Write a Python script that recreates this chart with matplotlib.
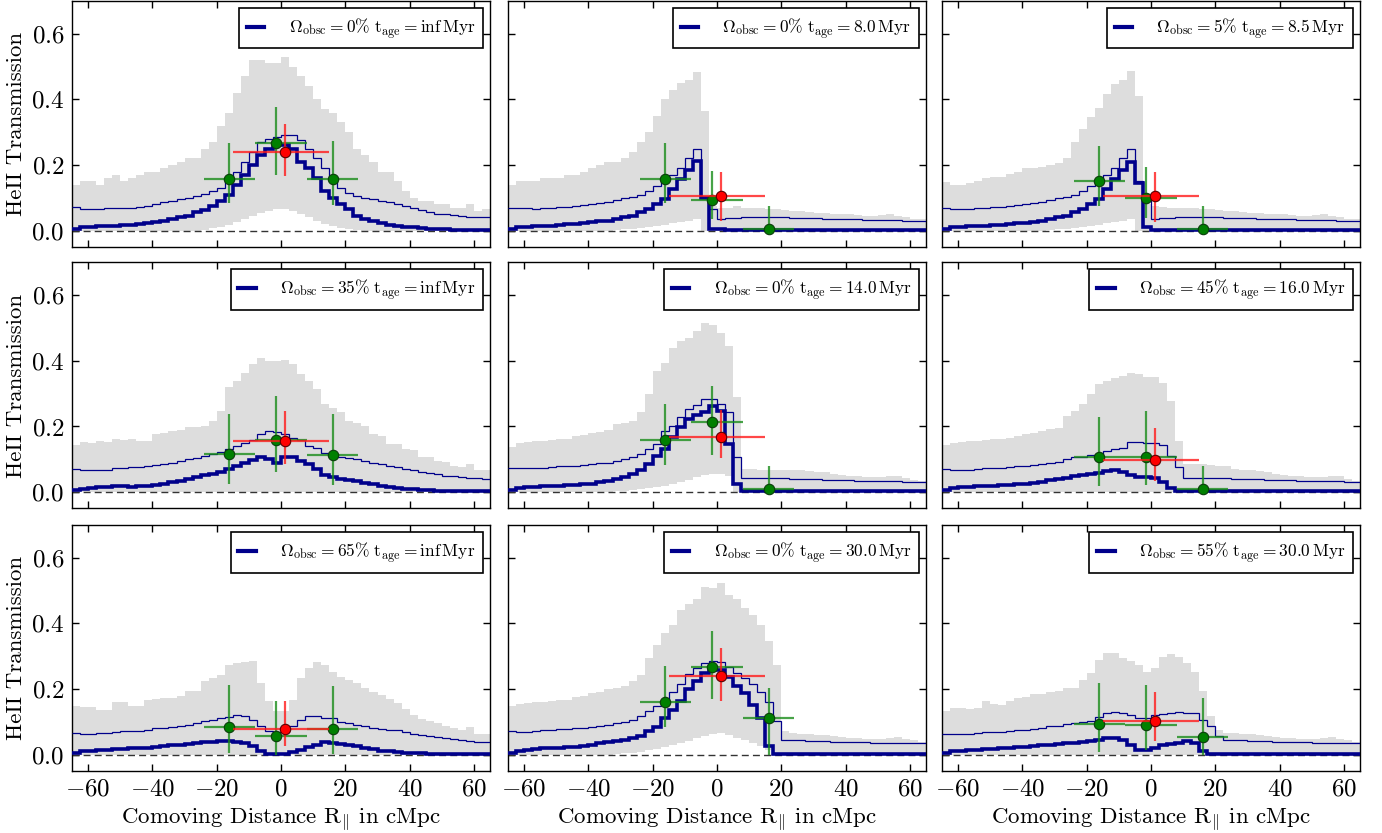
import numpy as np
import matplotlib
matplotlib.use("Agg")
import matplotlib.pyplot as plt
from matplotlib.lines import Line2D

plt.rcParams['font.family'] = 'serif'
plt.rcParams['font.serif'] = ['cmr10']
plt.rcParams['mathtext.fontset'] = 'cm'
plt.rcParams['axes.formatter.use_mathtext'] = True

# bin edges of the transmission profiles (cMpc)
bin_edges = np.linspace(-65, 65, 53)

# ---- panel 1: 0%, inf Myr
p1_band_hi = [0.14, 0.15, 0.15, 0.14, 0.16, 0.17, 0.15, 0.16, 0.17, 0.18, 0.18, 0.19,
              0.20, 0.21, 0.22, 0.22, 0.25, 0.27,
              0.32, 0.36, 0.42, 0.47, 0.52, 0.52, 0.51, 0.51,
              0.53, 0.50, 0.47, 0.44, 0.40, 0.37, 0.36, 0.33,
              0.30, 0.25, 0.23, 0.21, 0.18, 0.18, 0.15, 0.12,
              0.10, 0.09, 0.09, 0.08, 0.08, 0.07, 0.07, 0.08, 0.06, 0.065]
p1_band_lo = [0, 0, 0, 0, 0, 0, 0, 0, 0, 0, 0, 0, 0, 0, 0, 0,
              0.003, 0.007, 0.012, 0.018, 0.025, 0.035, 0.045, 0.055, 0.060, 0.065,
              0.067, 0.060, 0.050, 0.040, 0.030, 0.020, 0.013, 0.008, 0.004, 0.002,
              0, 0, 0, 0, 0, 0, 0, 0, 0, 0, 0, 0, 0, 0, 0, 0]
p1_thin = [0.071, 0.066, 0.066, 0.066, 0.068, 0.070, 0.070, 0.070,
           0.072, 0.075, 0.080, 0.086, 0.090, 0.096, 0.100, 0.106,
           0.112, 0.120, 0.130, 0.150, 0.180, 0.210, 0.240, 0.270, 0.280, 0.285,
           0.290, 0.290, 0.275, 0.250, 0.220, 0.190, 0.150, 0.130, 0.115, 0.105, 0.100, 0.096,
           0.090, 0.086, 0.080, 0.075, 0.070, 0.062,
           0.058, 0.052, 0.050, 0.047, 0.045, 0.042, 0.040, 0.040]
p1_thick = [0.005, 0.010, 0.010, 0.013, 0.015, 0.015, 0.016, 0.018, 0.020,
            0.022, 0.025, 0.030, 0.035, 0.040, 0.045, 0.056,
            0.063, 0.075, 0.090, 0.110, 0.140, 0.170, 0.200, 0.230, 0.250, 0.260,
            0.260, 0.250, 0.210, 0.190, 0.160, 0.120, 0.100, 0.080, 0.066, 0.045, 0.035, 0.028,
            0.022, 0.018, 0.015, 0.012, 0.010, 0.008,
            0.006, 0.005, 0.004, 0.003, 0.003, 0.002, 0.002, 0.002]

# ---- panel 2: 0%, 8.0 Myr
p2_band_hi = [0.14, 0.15, 0.15, 0.15, 0.16, 0.16, 0.16, 0.17, 0.17, 0.18,
              0.19, 0.20, 0.21, 0.21, 0.22, 0.24, 0.27, 0.30, 0.35, 0.40,
              0.43, 0.45, 0.46, 0.485, 0.365, 0.075,
              0.07, 0.07, 0.075, 0.07, 0.068, 0.068, 0.065, 0.065, 0.063, 0.06,
              0.06, 0.058, 0.055, 0.055, 0.052, 0.05, 0.05, 0.048, 0.045, 0.045,
              0.048, 0.05, 0.045, 0.04, 0.035, 0.035]
p2_band_lo = [0, 0, 0, 0, 0, 0, 0, 0, 0, 0, 0, 0, 0,
              0.002, 0.004, 0.006, 0.008, 0.011, 0.014, 0.018, 0.022, 0.026, 0.030, 0.035,
              0, 0, 0, 0, 0, 0, 0, 0, 0, 0, 0, 0, 0, 0,
              0, 0, 0, 0, 0, 0, 0, 0, 0, 0, 0, 0, 0, 0]
p2_thin = [0.069, 0.068, 0.068, 0.066, 0.068, 0.070, 0.072, 0.073, 0.075, 0.078,
           0.080, 0.083, 0.088, 0.092, 0.098, 0.102, 0.110, 0.120, 0.135, 0.150,
           0.170, 0.190, 0.220, 0.250, 0.100, 0.065,
           0.036, 0.037, 0.038, 0.040, 0.040, 0.041, 0.041, 0.040, 0.040, 0.039,
           0.038, 0.038, 0.037, 0.036, 0.035, 0.035, 0.034, 0.034, 0.033, 0.032,
           0.032, 0.031, 0.031, 0.030, 0.030, 0.030]
p2_thick = [0.005, 0.010, 0.012, 0.013, 0.014, 0.015, 0.017, 0.019, 0.020,
            0.022, 0.025, 0.028, 0.030, 0.034, 0.040, 0.045,
            0.056, 0.066, 0.081, 0.096, 0.127, 0.157, 0.185, 0.213, 0.100,
            0.004, 0.004, 0.003, 0.003, 0.003, 0.003, 0.003, 0.003, 0.003, 0.003,
            0.003, 0.003, 0.003, 0.003, 0.003, 0.003, 0.003, 0.003, 0.003, 0.003,
            0.003, 0.003, 0.003, 0.003, 0.003, 0.003, 0.003]

# ---- panel 3: 5%, 8.5 Myr
p3_band_hi = [0.147, 0.14, 0.14, 0.145, 0.15, 0.16, 0.162, 0.162, 0.172, 0.18,
              0.19, 0.19, 0.195, 0.2, 0.205,
              0.22, 0.27, 0.31, 0.345, 0.375, 0.415, 0.446, 0.46, 0.486, 0.41, 0.08,
              0.075, 0.072, 0.07, 0.07, 0.068, 0.068, 0.065, 0.065, 0.063, 0.06,
              0.06, 0.058, 0.055, 0.055, 0.052, 0.05, 0.05, 0.048, 0.045, 0.045,
              0.048, 0.05, 0.045, 0.04, 0.035, 0.035]
p3_band_lo = [0, 0, 0, 0, 0, 0, 0, 0, 0, 0, 0, 0, 0,
              0.002, 0.004, 0.006, 0.008, 0.011, 0.014, 0.018, 0.022, 0.026, 0.030, 0.035,
              0, 0, 0, 0, 0, 0, 0, 0, 0, 0, 0, 0, 0, 0,
              0, 0, 0, 0, 0, 0, 0, 0, 0, 0, 0, 0, 0, 0]
p3_thin = [0.069, 0.067, 0.067, 0.066, 0.068, 0.070, 0.072, 0.073, 0.075, 0.078,
           0.080, 0.083, 0.088, 0.092, 0.098, 0.102, 0.110, 0.120, 0.135, 0.150,
           0.170, 0.190, 0.220, 0.250, 0.150, 0.100,
           0.036, 0.037, 0.038, 0.040, 0.040, 0.041, 0.041, 0.040, 0.040, 0.039,
           0.038, 0.038, 0.037, 0.036, 0.035, 0.035, 0.034, 0.034, 0.033, 0.032,
           0.032, 0.031, 0.031, 0.030, 0.030, 0.030]
p3_thick = [0.005, 0.010, 0.012, 0.013, 0.014, 0.015, 0.016, 0.018, 0.020, 0.022,
            0.024, 0.026, 0.030, 0.034, 0.040, 0.045, 0.056, 0.066, 0.081, 0.096,
            0.127, 0.157, 0.185, 0.210, 0.145, 0.012,
            0.003, 0.003, 0.003, 0.003, 0.003, 0.003, 0.003, 0.003, 0.003, 0.003,
            0.003, 0.003, 0.003, 0.003, 0.003, 0.003, 0.003, 0.003, 0.003, 0.003,
            0.003, 0.003, 0.003, 0.003, 0.003, 0.003]

# ---- panel 4: 35%, inf Myr
p4_band_hi = [0.142, 0.152, 0.15, 0.155, 0.152, 0.162, 0.16, 0.162, 0.155, 0.155,
              0.177, 0.18, 0.187, 0.19, 0.197, 0.197, 0.2, 0.218, 0.248, 0.319,
              0.339, 0.364, 0.39, 0.41, 0.40, 0.40, 0.403, 0.39, 0.36, 0.34,
              0.314, 0.268, 0.255, 0.243, 0.218, 0.21, 0.202, 0.177, 0.17, 0.147,
              0.147, 0.13, 0.127, 0.106, 0.106, 0.095, 0.091, 0.08, 0.076, 0.086,
              0.066, 0.066]
p4_band_lo = None
p4_thin = [0.071, 0.068, 0.066, 0.067, 0.068, 0.072, 0.074, 0.076, 0.076, 0.078,
           0.082, 0.086, 0.090, 0.094, 0.100, 0.104, 0.110, 0.116, 0.122, 0.130,
           0.140, 0.150, 0.160, 0.177, 0.185, 0.183, 0.177, 0.165, 0.160, 0.140,
           0.135, 0.120, 0.108, 0.106, 0.104, 0.100, 0.095, 0.090, 0.085, 0.080,
           0.075, 0.070, 0.066, 0.062, 0.058, 0.054, 0.050, 0.048, 0.046, 0.044,
           0.042, 0.040]
p4_thick = [0.005, 0.010, 0.013, 0.015, 0.016, 0.017, 0.017, 0.016, 0.017, 0.019,
            0.022, 0.025, 0.030, 0.035, 0.040, 0.046, 0.052, 0.056, 0.062, 0.070,
            0.078, 0.088, 0.098, 0.106, 0.100, 0.090, 0.106, 0.106, 0.096, 0.086,
            0.070, 0.052, 0.045, 0.040, 0.038, 0.034, 0.028, 0.024, 0.018, 0.014,
            0.012, 0.010, 0.008, 0.006, 0.005, 0.004, 0.003, 0.003, 0.002, 0.002,
            0.002, 0.002]

# ---- panel 5: 0%, 14.0 Myr
p5_band_hi = [0.137, 0.15, 0.152, 0.155, 0.155, 0.16, 0.162, 0.162, 0.17, 0.175,
              0.18, 0.182, 0.19, 0.207, 0.21, 0.218, 0.243,
              0.30, 0.37, 0.395, 0.44, 0.46, 0.47, 0.49, 0.516, 0.51, 0.486, 0.445, 0.29,
              0.07, 0.07, 0.068, 0.068, 0.066, 0.066, 0.066, 0.066, 0.065, 0.062,
              0.06, 0.056, 0.052, 0.05, 0.048, 0.046, 0.046, 0.046, 0.048, 0.05,
              0.044, 0.038, 0.035]
p5_band_lo = [0, 0, 0, 0, 0, 0, 0, 0, 0, 0, 0, 0, 0,
              0.002, 0.004, 0.006, 0.009, 0.012, 0.016, 0.02, 0.025, 0.03, 0.037,
              0.045, 0.053, 0.056, 0.056, 0.05,
              0, 0, 0, 0, 0, 0, 0, 0, 0, 0, 0, 0,
              0, 0, 0, 0, 0, 0, 0, 0, 0, 0, 0, 0]
p5_thin = [0.074, 0.072, 0.072, 0.073, 0.074, 0.076, 0.078, 0.078, 0.080, 0.082,
           0.086, 0.088, 0.090, 0.096, 0.100, 0.106, 0.116,
           0.130, 0.147, 0.187, 0.200, 0.230, 0.253, 0.265, 0.283, 0.283, 0.268, 0.243, 0.106,
           0.044, 0.044, 0.043, 0.043, 0.042, 0.042, 0.041, 0.040, 0.040, 0.039,
           0.038, 0.037, 0.036, 0.036, 0.035, 0.035, 0.034, 0.034, 0.033, 0.033,
           0.032, 0.032, 0.032]
p5_thick = [0.005, 0.012, 0.015, 0.016, 0.018, 0.019, 0.020, 0.021, 0.022, 0.024,
            0.026, 0.030, 0.035, 0.040, 0.046, 0.056, 0.066,
            0.086, 0.111, 0.132, 0.167, 0.197, 0.223, 0.235, 0.243, 0.263, 0.246, 0.147, 0.025,
            0.004, 0.004, 0.004, 0.004, 0.004, 0.004, 0.004, 0.004, 0.004, 0.004,
            0.004, 0.004, 0.004, 0.004, 0.004, 0.004, 0.004, 0.004, 0.004, 0.004,
            0.004, 0.004, 0.004]

# ---- panel 6: 45%, 16.0 Myr
p6_band_hi = [0.142, 0.15, 0.152, 0.155, 0.155, 0.16, 0.162, 0.162, 0.165, 0.17,
              0.177, 0.18, 0.185, 0.192, 0.195, 0.233, 0.248,
              0.268, 0.30, 0.33, 0.34, 0.347, 0.354, 0.364, 0.36, 0.35, 0.35, 0.334, 0.278, 0.157,
              0.086, 0.086, 0.085, 0.083, 0.08, 0.078, 0.07, 0.068, 0.066, 0.064,
              0.06, 0.056, 0.052, 0.05, 0.048, 0.046, 0.046, 0.046, 0.05, 0.05,
              0.04, 0.035]
p6_band_lo = None
p6_thin = [0.071, 0.068, 0.066, 0.068, 0.070, 0.072, 0.074, 0.074, 0.076, 0.078,
           0.080, 0.082, 0.086, 0.090, 0.092, 0.100, 0.106,
           0.108, 0.112, 0.116, 0.124, 0.130, 0.135, 0.152, 0.152, 0.149, 0.149, 0.142, 0.111, 0.076,
           0.044, 0.044, 0.043, 0.043, 0.042, 0.042, 0.041, 0.040, 0.040, 0.039,
           0.038, 0.037, 0.036, 0.036, 0.035, 0.035, 0.034, 0.034, 0.033, 0.033,
           0.032, 0.032]
p6_thick = [0.005, 0.012, 0.015, 0.016, 0.017, 0.018, 0.020, 0.021, 0.022, 0.024,
            0.026, 0.028, 0.031, 0.036, 0.040, 0.044, 0.048,
            0.052, 0.056, 0.058, 0.064, 0.066, 0.062, 0.052, 0.046, 0.046, 0.044, 0.030, 0.012,
            0.004, 0.004, 0.004, 0.004, 0.004, 0.004, 0.004, 0.004, 0.004, 0.004,
            0.004, 0.004, 0.004, 0.004, 0.004, 0.004, 0.004, 0.004, 0.004, 0.004,
            0.004, 0.004, 0.004]

# ---- panel 7: 65%, inf Myr
p7_band_hi = [0.147, 0.144, 0.144, 0.137, 0.137, 0.16, 0.16, 0.147, 0.147, 0.167,
              0.17, 0.174, 0.174, 0.18, 0.193, 0.195,
              0.223, 0.235, 0.243, 0.274, 0.279, 0.282, 0.284, 0.218, 0.162, 0.132,
              0.132, 0.167, 0.233, 0.263, 0.282, 0.274, 0.253, 0.238, 0.228, 0.218,
              0.203, 0.19, 0.182, 0.17, 0.157, 0.14, 0.122, 0.11, 0.101, 0.095,
              0.086, 0.08, 0.076, 0.085, 0.063, 0.063]
p7_band_lo = None
p7_thin = [0.066, 0.064, 0.064, 0.066, 0.066, 0.070, 0.071, 0.072, 0.072, 0.076,
           0.080, 0.081, 0.084, 0.088, 0.091, 0.095, 0.101,
           0.105, 0.111, 0.116, 0.120, 0.118, 0.106, 0.086, 0.071, 0.069, 0.069,
           0.086, 0.106, 0.117, 0.117, 0.113, 0.111, 0.100, 0.096, 0.090, 0.086,
           0.082, 0.078, 0.076, 0.074, 0.070, 0.064, 0.060, 0.058, 0.054, 0.050,
           0.048, 0.046, 0.042, 0.040, 0.038]
p7_thick = [0.005, 0.010, 0.012, 0.014, 0.015, 0.016, 0.018, 0.019, 0.020, 0.021,
            0.024, 0.026, 0.028, 0.030, 0.033, 0.035, 0.038,
            0.040, 0.043, 0.043, 0.040, 0.036, 0.025, 0.010, 0.003, 0.002, 0.003,
            0.008, 0.014, 0.022, 0.030, 0.038, 0.036, 0.032, 0.028, 0.025, 0.020,
            0.016, 0.012, 0.010, 0.008, 0.006, 0.005, 0.004, 0.003,
            0.002, 0.002, 0.002, 0.002, 0.002, 0.002, 0.002]

# ---- panel 8: 0%, 30.0 Myr
p8_band_hi = [0.147, 0.155, 0.157, 0.16, 0.16, 0.165, 0.167, 0.167, 0.175, 0.18,
              0.187, 0.19, 0.2, 0.203, 0.21,
              0.223, 0.243, 0.294, 0.334, 0.37, 0.395, 0.44, 0.46, 0.476, 0.512,
              0.507, 0.522, 0.486, 0.476, 0.446, 0.425, 0.395, 0.345, 0.274,
              0.071, 0.066, 0.064, 0.062, 0.061, 0.060, 0.058, 0.055, 0.052, 0.050,
              0.049, 0.049, 0.049, 0.052, 0.055, 0.048, 0.044, 0.040]
p8_band_lo = [0, 0, 0, 0, 0, 0, 0, 0, 0, 0, 0, 0, 0,
              0.002, 0.004, 0.006, 0.009, 0.013, 0.017, 0.022, 0.028, 0.034, 0.042,
              0.050, 0.056, 0.062, 0.066, 0.060, 0.052, 0.045, 0.035, 0.025, 0.015, 0.005,
              0, 0, 0, 0, 0, 0, 0, 0, 0, 0, 0, 0, 0, 0, 0, 0, 0, 0]
p8_thin = [0.071, 0.070, 0.070, 0.072, 0.074, 0.076, 0.078, 0.079, 0.080, 0.082,
           0.084, 0.086, 0.090, 0.096, 0.100, 0.106, 0.117,
           0.132, 0.147, 0.165, 0.190, 0.215, 0.245, 0.265, 0.279, 0.286, 0.283,
           0.266, 0.248, 0.235, 0.215, 0.192, 0.160, 0.101,
           0.046, 0.045, 0.044, 0.043, 0.042, 0.041, 0.040, 0.040, 0.039, 0.038,
           0.037, 0.036, 0.036, 0.035, 0.035, 0.034, 0.034, 0.034]
p8_thick = [0.005, 0.012, 0.015, 0.017, 0.019, 0.020, 0.021, 0.022, 0.024, 0.026,
            0.030, 0.034, 0.038, 0.042, 0.046, 0.050, 0.056,
            0.071, 0.083, 0.111, 0.137, 0.162, 0.200, 0.223, 0.248, 0.258, 0.258,
            0.238, 0.208, 0.187, 0.152, 0.111, 0.025, 0.003,
            0.002, 0.002, 0.002, 0.002, 0.002, 0.002, 0.002, 0.002, 0.002, 0.002,
            0.002, 0.002, 0.002, 0.002, 0.002, 0.002, 0.002, 0.002]

# ---- panel 9: 55%, 30.0 Myr
p9_band_hi = [0.134, 0.142, 0.142, 0.140, 0.142, 0.162, 0.155, 0.152, 0.165, 0.172,
              0.175, 0.184, 0.184, 0.19, 0.195, 0.203, 0.203,
              0.228, 0.248, 0.289, 0.309, 0.309, 0.294, 0.284, 0.274, 0.253,
              0.263, 0.299, 0.306, 0.299, 0.279, 0.253, 0.193, 0.117, 0.076,
              0.066, 0.065, 0.063, 0.062, 0.060, 0.058, 0.055, 0.052, 0.050, 0.049,
              0.049, 0.049, 0.052, 0.055, 0.048, 0.044, 0.040]
p9_band_lo = None
p9_thin = [0.063, 0.062, 0.062, 0.064, 0.066, 0.068, 0.069, 0.070, 0.072, 0.074,
           0.076, 0.078, 0.082, 0.086, 0.088, 0.092, 0.096,
           0.098, 0.103, 0.115, 0.127, 0.130, 0.128, 0.122, 0.113, 0.113,
           0.120, 0.125, 0.128, 0.130, 0.128, 0.127, 0.106, 0.086, 0.056,
           0.046, 0.045, 0.044, 0.043, 0.042, 0.041, 0.040, 0.040, 0.039, 0.038,
           0.037, 0.036, 0.036, 0.035, 0.035, 0.034, 0.034]
p9_thick = [0.005, 0.010, 0.012, 0.014, 0.015, 0.016, 0.018, 0.019, 0.021, 0.022,
            0.024, 0.026, 0.028, 0.030, 0.032, 0.034, 0.036,
            0.038, 0.041, 0.044, 0.050, 0.051, 0.046, 0.030, 0.015, 0.015,
            0.020, 0.028, 0.032, 0.035, 0.043, 0.035, 0.010, 0.003,
            0.002, 0.002, 0.002, 0.002, 0.002, 0.002, 0.002, 0.002, 0.002, 0.002,
            0.002, 0.002, 0.002, 0.002, 0.002, 0.002, 0.002, 0.002]

# binned measurements: green = 3 bins, red = 1 wide bin
green_x = [-16.2, -1.6, 16.1]
green_bin_lo = [-24, -8, 8]
green_bin_hi = [-8, 8, 24]
red_x = [1.3]
red_bin_lo = [-15]
red_bin_hi = [15]

green_y = [[0.157, 0.268, 0.157], [0.157, 0.093, 0.005], [0.152, 0.098, 0.005],
           [0.116, 0.159, 0.113], [0.159, 0.213, 0.008], [0.106, 0.108, 0.008],
           [0.083, 0.056, 0.079], [0.160, 0.268, 0.111], [0.093, 0.089, 0.054]]
green_top = [[0.268, 0.377, 0.274], [0.268, 0.182, 0.076], [0.258, 0.193, 0.076],
             [0.238, 0.294, 0.238], [0.270, 0.324, 0.078], [0.228, 0.248, 0.078],
             [0.213, 0.165, 0.210], [0.271, 0.378, 0.203], [0.218, 0.213, 0.174]]
green_bot = [[0.084, 0.170, 0.079], [0.084, 0.035, 0.0], [0.076, 0.039, 0.0],
             [0.025, 0.061, 0.023], [0.084, 0.113, 0.0], [0.017, 0.023, 0.0],
             [0.005, 0.0, 0.003], [0.083, 0.170, 0.0], [0.008, 0.013, 0.0]]
red_y = [0.240, 0.104, 0.106, 0.157, 0.167, 0.098, 0.079, 0.241, 0.103]
red_top = [0.326, 0.179, 0.179, 0.246, 0.251, 0.194, 0.164, 0.326, 0.190]
red_bot = [0.167, 0.030, 0.025, 0.086, 0.104, 0.035, 0.027, 0.164, 0.043]

obsc_pct = ['0', '0', '5', '35', '0', '45', '65', '0', '55']
age_myr = ['inf', '8.0', '8.5', 'inf', '14.0', '16.0', 'inf', '30.0', '30.0']

band_hi = [p1_band_hi, p2_band_hi, p3_band_hi, p4_band_hi, p5_band_hi,
           p6_band_hi, p7_band_hi, p8_band_hi, p9_band_hi]
band_lo = [p1_band_lo, p2_band_lo, p3_band_lo, p4_band_lo, p5_band_lo,
           p6_band_lo, p7_band_lo, p8_band_lo, p9_band_lo]
thin = [p1_thin, p2_thin, p3_thin, p4_thin, p5_thin, p6_thin, p7_thin, p8_thin, p9_thin]
thick = [p1_thick, p2_thick, p3_thick, p4_thick, p5_thick, p6_thick, p7_thick,
         p8_thick, p9_thick]

fig = plt.figure(figsize=(13.82, 8.33), dpi=100)
lefts = [0.0521, 0.3676, 0.6816]
bottoms = [0.7035, 0.3896, 0.0744]
w, h = 0.3025, 0.2953

gx = np.array(green_x)
rx = np.array(red_x)
for i in range(9):
    row, col = divmod(i, 3)
    ax = fig.add_axes([lefts[col], bottoms[row], w, h])

    lo = 0 if band_lo[i] is None else np.array(band_lo[i])
    ax.stairs(band_hi[i], bin_edges, baseline=lo, fill=True,
              color='#dddddd', lw=0, zorder=1)
    ax.axhline(0, color='#333333', ls='--', dashes=(5, 3), lw=1, zorder=2)
    ax.stairs(thin[i], bin_edges, baseline=None, color='#00008b', lw=0.9, zorder=3)
    ax.stairs(thick[i], bin_edges, baseline=None, color='#00008b', lw=2.6, zorder=4)

    gy = np.array(green_y[i])
    ax.errorbar(gx, gy,
                xerr=[gx - np.array(green_bin_lo), np.array(green_bin_hi) - gx],
                yerr=[gy - np.array(green_bot[i]), np.array(green_top[i]) - gy],
                fmt='o', color='green', ecolor=(0.1, 0.55, 0.1, 0.8),
                elinewidth=1.6, ms=7.5, mec='#0b3d0b', mew=0.8, capsize=0, zorder=5)
    ry = np.array([red_y[i]])
    ax.errorbar(rx, ry,
                xerr=[rx - np.array(red_bin_lo), np.array(red_bin_hi) - rx],
                yerr=[ry - red_bot[i], red_top[i] - ry],
                fmt='o', color='red', ecolor=(1.0, 0.1, 0.1, 0.8),
                elinewidth=1.6, ms=7.5, mec='#5a0000', mew=0.8, capsize=0, zorder=6)

    ax.set_xlim(-65, 65)
    ax.set_ylim(-0.05, 0.7)
    ax.set_xticks([-60, -40, -20, 0, 20, 40, 60])
    ax.set_yticks([0.0, 0.2, 0.4, 0.6])
    ax.tick_params(direction='in', top=True, right=True, length=5, width=1,
                   labelsize=18, pad=5.5,
                   labelleft=(col == 0), labelbottom=(row == 2))
    for sp in ax.spines.values():
        sp.set_linewidth(1.0)

    label = (r'$\Omega_{\rm obsc} = ' + obsc_pct[i] + r'\%\ {\rm t_{age}} = {\rm '
             + age_myr[i] + r'\,Myr}$')
    leg = ax.legend([Line2D([], [], color='#00008b', lw=3)], [label],
                    loc='upper right', fontsize=12.5, fancybox=False, framealpha=1,
                    edgecolor='black', handlelength=1.0, handletextpad=1.4,
                    borderpad=0.45, borderaxespad=0.4)
    leg.get_frame().set_linewidth(1.2)

    if col == 0:
        ax.set_ylabel('HeII Transmission', fontsize=16.5)
    if row == 2:
        ax.set_xlabel(r'Comoving Distance $\mathrm{R}_{\Vert}$ in cMpc', fontsize=16.5)

fig.savefig('out.png', dpi=100)
